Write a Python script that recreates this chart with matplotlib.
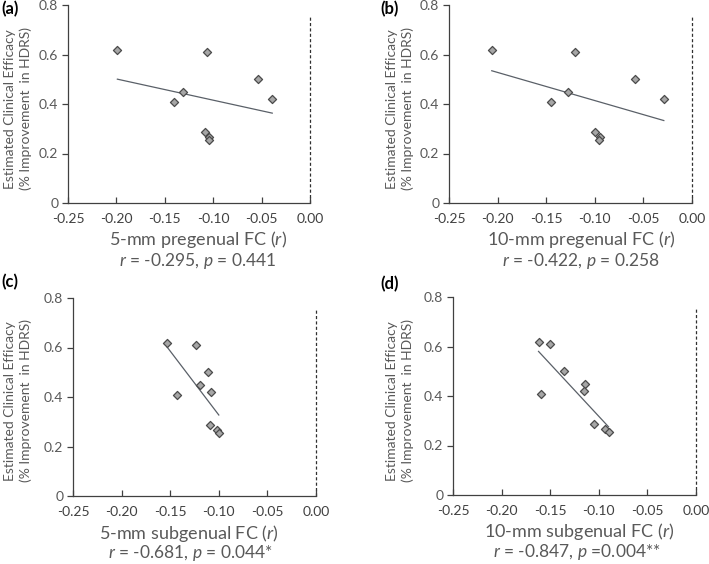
import numpy as np
import matplotlib
matplotlib.use("Agg")
import matplotlib.pyplot as plt

plt.rcParams['font.family'] = ['Lato', 'DejaVu Sans']
plt.rcParams['mathtext.fontset'] = 'custom'
plt.rcParams['mathtext.rm'] = 'Lato'
plt.rcParams['mathtext.it'] = 'Lato:italic'

# Clinical efficacy (% improvement in HDRS), same patients in each panel
efficacy = [0.62, 0.61, 0.45, 0.41, 0.50, 0.42, 0.285, 0.265, 0.253]

fc_5mm_pregenual = [-0.199, -0.106, -0.1315, -0.141, -0.054, -0.039, -0.108, -0.104, -0.104]
fc_10mm_pregenual = [-0.206, -0.120, -0.128, -0.145, -0.059, -0.029, -0.100, -0.095, -0.0955]
fc_5mm_subgenual = [-0.153, -0.123, -0.119, -0.143, -0.111, -0.108, -0.109, -0.102, -0.100]
fc_10mm_subgenual = [-0.162, -0.150, -0.114, -0.159, -0.136, -0.115, -0.105, -0.094, -0.090]

panel_letters = ['(a)', '(b)', '(c)', '(d)']
x_labels = ['5-mm pregenual FC ($\\it{r}$)', '10-mm pregenual FC ($\\it{r}$)',
            '5-mm subgenual FC ($\\it{r}$)', '10-mm subgenual FC ($\\it{r}$)']
stats = ['$\\it{r}$ = -0.295, $\\it{p}$ = 0.441', '$\\it{r}$ = -0.422, $\\it{p}$ = 0.258',
         '$\\it{r}$ = -0.681, $\\it{p}$ = 0.044*', '$\\it{r}$ = -0.847, $\\it{p}$ =0.004**']
x_ticks = [-0.25, -0.20, -0.15, -0.10, -0.05, 0.00]
x_tick_labels = ['-0.25', '-0.20', '-0.15', '-0.10', '-0.05', '0.00']
y_ticks = [0, 0.2, 0.4, 0.6, 0.8]
y_tick_labels = ['0', '0.2', '0.4', '0.6', '0.8']

xs = [fc_5mm_pregenual, fc_10mm_pregenual, fc_5mm_subgenual, fc_10mm_subgenual]

W, H = 709, 564
fig = plt.figure(figsize=(W / 100, H / 100), dpi=100)

# axes boxes in pixels: left, right, top, bottom
boxes = [(68, 310, 5, 203), (449, 692, 5, 203), (73, 316, 298, 496), (453, 696, 297, 495)]
xlabel_pos = [(198, 240), (581, 240), (189, 533), (579, 532)]
stats_pos = [(198, 261), (581, 261), (190, 553), (577, 552)]
ylabel_x = [18, 400, 18, 400]
ylabel_y = [109, 109, 401, 401]
letter_pos = [(1, 1), (380, 1), (1, 274), (380, 276)]

text_col = '#595959'
tick_col = '#404040'
spine_col = '#404040'

for i in range(4):
    l, r, t, b = boxes[i]
    ax = fig.add_axes([l / W, 1 - b / H, (r - l) / W, (b - t) / H])
    x = np.array(xs[i])
    y = np.array(efficacy)
    ax.scatter(x, y, marker='D', s=17, facecolor='#a6a6a6', edgecolor='#4a4a4a',
               linewidth=0.9, zorder=3)
    k, c = np.polyfit(x, y, 1)
    xl = np.array([x.min(), x.max()])
    ax.plot(xl, k * xl + c, color='#5a6068', lw=0.9, zorder=2)
    ax.plot([0, 0], [0, 0.76], color='#303030', lw=0.9, ls=(0, (2.5, 1.8)),
            zorder=1, clip_on=False)
    ax.set_xlim(-0.25, 0.0)
    ax.set_ylim(0, 0.8)
    ax.set_xticks(x_ticks)
    ax.set_xticklabels(x_tick_labels)
    ax.set_yticks(y_ticks)
    ax.set_yticklabels(y_tick_labels)
    for s in ['top', 'right']:
        ax.spines[s].set_visible(False)
    for s in ['left', 'bottom']:
        ax.spines[s].set_color(spine_col)
        ax.spines[s].set_linewidth(0.9)
    ax.tick_params(axis='x', direction='in', length=4, width=0.9, color=spine_col,
                   labelsize=10, labelcolor=tick_col, pad=7)
    ax.tick_params(axis='y', direction='out', length=4, width=0.9, color=spine_col,
                   labelsize=10, labelcolor=text_col, pad=3)
    ax.patch.set_alpha(0)

    fig.text(xlabel_pos[i][0] / W, 1 - xlabel_pos[i][1] / H, x_labels[i],
             ha='center', va='center', fontsize=13, color=text_col)
    fig.text(stats_pos[i][0] / W, 1 - stats_pos[i][1] / H, stats[i],
             ha='center', va='center', fontsize=12.5, color=text_col)
    fig.text(ylabel_x[i] / W, 1 - ylabel_y[i] / H,
             'Estimated Clinical Efficacy\n(% Improvement  in HDRS)',
             rotation=90, ha='center', va='center', multialignment='center',
             fontsize=10, color=text_col, linespacing=1.25)
    fig.text(letter_pos[i][0] / W, 1 - letter_pos[i][1] / H, panel_letters[i],
             ha='left', va='top', fontsize=12, fontweight='bold', color='black')

fig.savefig('out.png', dpi=100)
